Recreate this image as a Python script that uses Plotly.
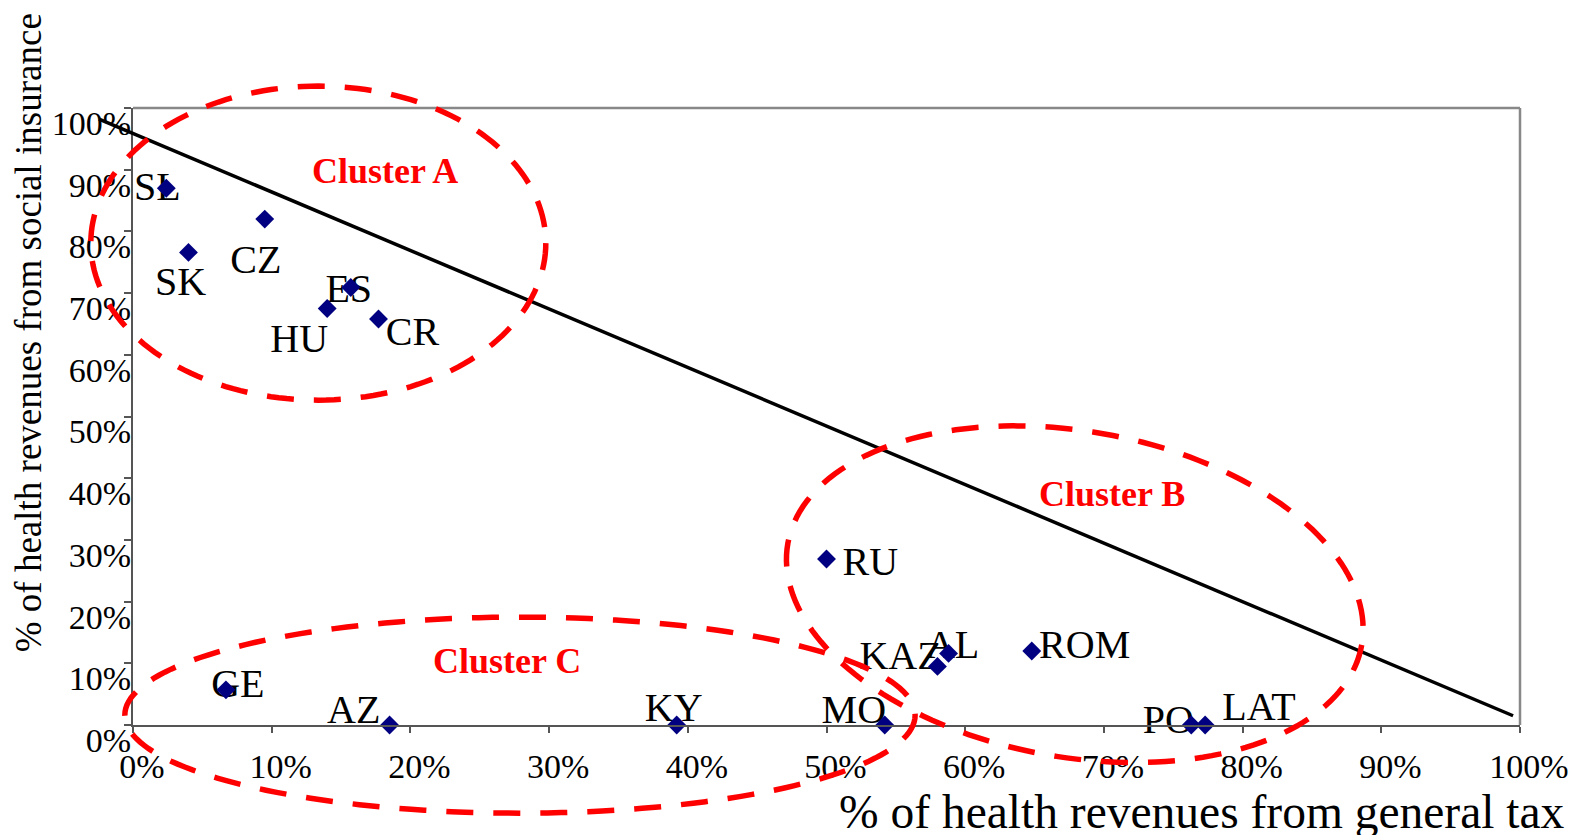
import numpy as np
import plotly.graph_objects as go

# ---------------- data ----------------
countries = ["SL", "SK", "CZ", "HU", "ES", "CR", "RU", "AL", "KAZ", "ROM",
             "MO", "PO", "LAT", "GE", "AZ", "KY"]
general_tax_pct = [2.4, 4.0, 9.5, 14.0, 15.7, 17.7, 50.0, 58.8, 58.0, 64.8,
                   54.2, 76.3, 77.3, 6.7, 18.5, 39.2]
social_insurance_pct = [87.0, 76.6, 82.0, 67.5, 70.9, 65.8, 26.9, 11.6, 9.5, 12.0,
                        0.0, 0.0, 0.0, 5.7, 0.0, 0.0]
tick_values = [0, 10, 20, 30, 40, 50, 60, 70, 80, 90, 100]
tick_labels = ["0%", "10%", "20%", "30%", "40%", "50%", "60%", "70%", "80%", "90%", "100%"]
trend_x = [-2.45, 99.5]
trend_y = [98.2, 1.5]
cluster_names = ["Cluster A", "Cluster B", "Cluster C"]

# ---------------- layout constants ----------------
W, H = 1581, 835
ML, MR, MT, MB = 133, 58, 108, 110
PW, PH = W - ML - MR, H - MT - MB
XR, YR = [0, 100], [0, 100]
PXX = PW / (XR[1] - XR[0])
PXY = PH / (YR[1] - YR[0])
FONT = "Liberation Serif"

# label offsets in pixels (dx right, dy down)
label_offsets = {
    "SL": (-9, 2), "SK": (-8, 33), "CZ": (-9, 44), "HU": (-28, 33),
    "ES": (-2, 4), "CR": (34, 16), "RU": (44, 6), "AL": (4, -5),
    "KAZ": (-37, -7), "ROM": (53, -3), "MO": (-31, -12), "PO": (-23, -2),
    "LAT": (54, -15), "GE": (12, -3), "AZ": (-36, -12), "KY": (-3, -14),
}
cluster_pos = {"Cluster A": (18.2, 89.8), "Cluster B": (70.55, 37.4), "Cluster C": (27.0, 10.4)}
# ellipses: centre (data), radii (px), rotation (deg, clockwise on screen)
ellipses = [((13.36, 78.1), 228, 157, 0), ((67.9, 21.2), 292, 163, 10), ((27.9, 1.6), 396, 98, 0)]

def to_paper_x(x):
    return (x - XR[0]) / (XR[1] - XR[0])

def to_paper_y(y):
    return (y - YR[0]) / (YR[1] - YR[0])

def ellipse_path(c, rx, ry, ang):
    cx = (c[0] - XR[0]) * PXX
    cy = (c[1] - YR[0]) * PXY
    a = np.deg2rad(ang)
    t = np.linspace(0, 2 * np.pi, 181)
    X = cx + rx * np.cos(t) * np.cos(a) - ry * np.sin(t) * np.sin(a)
    Y = cy - (rx * np.cos(t) * np.sin(a) + ry * np.sin(t) * np.cos(a))
    pts = [f"{x / PW:.5f},{y / PH:.5f}" for x, y in zip(X, Y)]
    return "M" + " L".join(pts) + " Z"

lx = [x + label_offsets[c][0] / PXX for c, x in zip(countries, general_tax_pct)]
ly = [y - label_offsets[c][1] / PXY for c, y in zip(countries, social_insurance_pct)]

fig = go.Figure()
fig.add_trace(go.Scatter(
    x=lx, y=ly, mode="text", text=countries, textposition="middle center",
    textfont=dict(family=FONT, size=40, color="black"),
    cliponaxis=False, hoverinfo="skip", showlegend=False))
fig.add_trace(go.Scatter(
    x=general_tax_pct, y=social_insurance_pct, mode="markers",
    marker=dict(symbol="diamond", size=14.5, color="#000080",
                line=dict(width=0)),
    cliponaxis=False, showlegend=False, text=countries))

shapes = []
# top / right frame
shapes.append(dict(type="line", xref="paper", yref="paper", x0=0, x1=1, y0=1, y1=1,
                   line=dict(color="#888888", width=2.5)))
shapes.append(dict(type="line", xref="paper", yref="paper", x0=1, x1=1, y0=0, y1=1,
                   line=dict(color="#888888", width=2.5)))
# trend line
shapes.append(dict(type="line", xref="paper", yref="paper",
                   x0=to_paper_x(trend_x[0]), y0=to_paper_y(trend_y[0]),
                   x1=to_paper_x(trend_x[1]), y1=to_paper_y(trend_y[1]),
                   line=dict(color="black", width=3.5)))
for c, rx, ry, ang in ellipses:
    shapes.append(dict(type="path", xref="paper", yref="paper",
                       path=ellipse_path(c, rx, ry, ang),
                       line=dict(color="#FF0000", width=5.5, dash="27px,20px")))

annotations = []
for name in cluster_names:
    x, y = cluster_pos[name]
    annotations.append(dict(x=x, y=y, xref="x", yref="y", text=f"<b>{name}</b>",
                            showarrow=False, xanchor="center", yanchor="middle",
                            font=dict(family=FONT, size=36, color="#FF0000")))
annotations.append(dict(x=(1204 - ML) / PW, y=(H - MB - 812) / PH, xref="paper", yref="paper",
                        text="% of health revenues from general tax", showarrow=False,
                        xanchor="center", yanchor="middle",
                        font=dict(family=FONT, size=47.5, color="black")))
annotations.append(dict(x=(28 - ML) / PW, y=(H - MB - 333) / PH, xref="paper", yref="paper",
                        text="% of health revenues from social insurance", showarrow=False,
                        textangle=-90, xanchor="center", yanchor="middle",
                        font=dict(family=FONT, size=37, color="black")))

axis_common = dict(showgrid=False, zeroline=False, showline=True, linecolor="#555555",
                   linewidth=2, ticks="outside", tickcolor="#555555", tickwidth=1.5,
                   tickfont=dict(family=FONT, size=34, color="black"),
                   tickvals=tick_values, ticktext=tick_labels)

fig.update_layout(
    width=W, height=H, autosize=False,
    margin=dict(l=ML, r=MR, t=MT, b=MB, pad=0),
    paper_bgcolor="white", plot_bgcolor="white",
    xaxis=dict(range=XR, ticklen=6, ticklabelshift=9, ticklabelstandoff=4, **axis_common),
    yaxis=dict(range=YR, ticklen=7, ticklabelshift=15, ticklabelstandoff=-14, **axis_common),
    shapes=shapes, annotations=annotations, showlegend=False,
)

fig.write_html("out.html", config={"displayModeBar": False},
               post_script="document.body.style.margin='0';document.body.style.overflow='hidden';")
